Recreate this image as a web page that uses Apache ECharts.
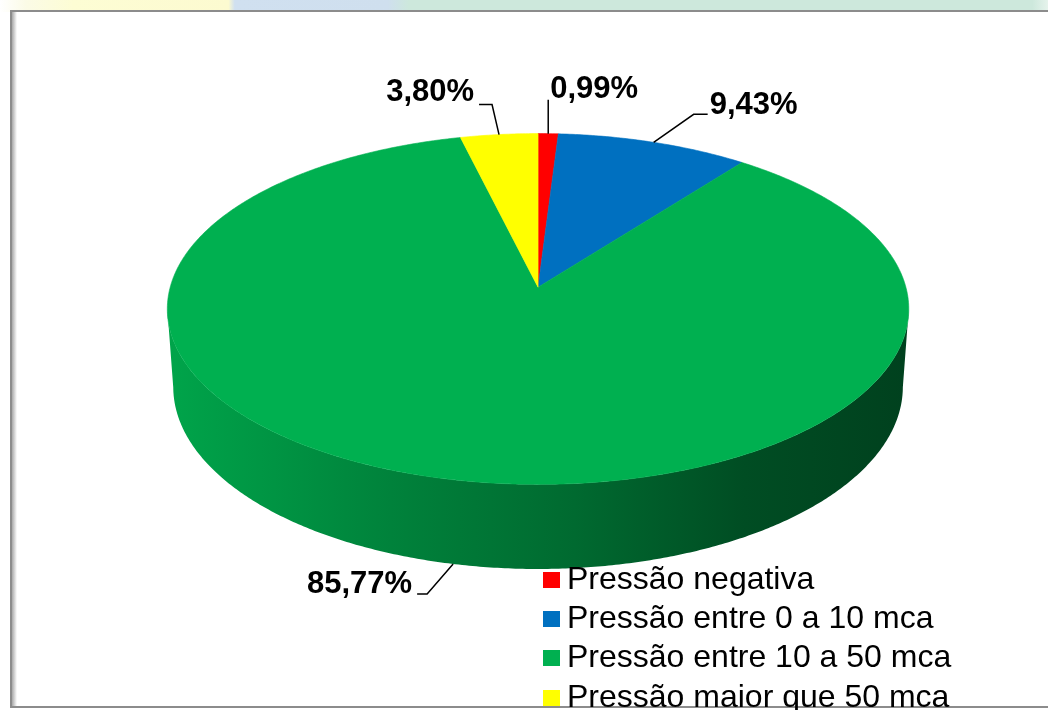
<!DOCTYPE html>
<html>
<head>
<meta charset="utf-8">
<title>Pressão</title>
<script src="https://cdn.jsdelivr.net/npm/echarts@6/dist/echarts.min.js"></script>
<style>
  html, body { margin: 0; padding: 0; background: #fff; }
  #chart { width: 1048px; height: 710px; }
</style>
</head>
<body>
<div id="chart"></div>
<script>
// dados
const categories = ['Pressão negativa', 'Pressão entre 0 a 10 mca', 'Pressão entre 10 a 50 mca', 'Pressão maior que 50 mca'];
const values = [0.99, 9.43, 85.77, 3.80];
const colors = ['#ff0000', '#0070c0', '#00b050', '#ffff00'];

// posição dos rótulos (deslocamentos da linha guia a partir da borda da fatia)
const labelLayout = [
  { bend: [0, -34], tail: 0, align: 'left', dx: 2, dy: -10 },
  { bend: [40, -28], tail: 14, align: 'left', dx: 2, dy: -9 },
  { bend: [-26, 30], tail: -10, align: 'right', dx: -5, dy: -10 },
  { bend: [-7, -30], tail: -13, align: 'right', dx: -5, dy: -12 }
];

const total = values.reduce((a, b) => a + b, 0);
const starts = [];
values.reduce((acc, v, i) => { starts[i] = acc; return acc + v; }, 0);

// perspectiva do "pizza 3D"
const TILT = 28 * Math.PI / 180;
const cosT = Math.cos(TILT), sinT = Math.sin(TILT);
const DIST = 7.11;
const DEPTH = 0.242;
const THETA_S = Math.acos(-cosT / DIST); // limite visível da lateral

function fmt(v) {
  return v.toFixed(2).replace('.', ',') + '%';
}

function shade(hex, f) {
  const n = parseInt(hex.slice(1), 16);
  const r = Math.round(((n >> 16) & 255) * f);
  const g = Math.round(((n >> 8) & 255) * f);
  const b = Math.round((n & 255) * f);
  return 'rgb(' + r + ',' + g + ',' + b + ')';
}

const chart = echarts.init(document.getElementById('chart'));

function renderItem(params, api) {
  const W = api.getWidth(), Hh = api.getHeight();
  const cx = W * 0.5134, cy = Hh * 0.4045, S = W * 0.351;
  const project = (theta, Y) => {
    const X = Math.sin(theta), Z = Math.cos(theta);
    const yv = Y * cosT + Z * sinT;
    const zv = DIST + Z * cosT - Y * sinT;
    return [cx + S * DIST * X / zv, cy - S * DIST * yv / zv];
  };

  const i = params.dataIndex;
  const v = api.value(0);
  const a0 = starts[i] / total * Math.PI * 2;
  const a1 = a0 + v / total * Math.PI * 2;
  const color = colors[i];
  const step = Math.PI / 360;
  const children = [];

  // lateral
  const lo = Math.max(a0, THETA_S), hi = Math.min(a1, Math.PI * 2 - THETA_S);
  if (hi > lo) {
    const topArc = [], botArc = [];
    for (let t = lo; t < hi; t += step) {
      topArc.push(project(t, 0));
      botArc.push(project(t, -DEPTH));
    }
    topArc.push(project(hi, 0));
    botArc.push(project(hi, -DEPTH));
    children.push({
      type: 'polygon',
      z2: 1,
      shape: { points: topArc.concat(botArc.reverse()) },
      style: {
        fill: new echarts.graphic.LinearGradient(cx - S, 0, cx + S, 0, [
          { offset: 0, color: shade(color, 0.93) },
          { offset: 0.3, color: shade(color, 0.74) },
          { offset: 0.55, color: shade(color, 0.6) },
          { offset: 0.78, color: shade(color, 0.44) },
          { offset: 1, color: shade(color, 0.37) }
        ], true)
      }
    });
  }

  // topo
  const pts = [[cx, cy]];
  for (let t = a0; t < a1; t += step) pts.push(project(t, 0));
  pts.push(project(a1, 0));
  children.push({
    type: 'polygon',
    z2: 2,
    shape: { points: pts },
    style: { fill: color, stroke: color, lineWidth: 0.6 }
  });

  // rótulo
  const mid = (a0 + a1) / 2;
  const front = mid > THETA_S && mid < Math.PI * 2 - THETA_S;
  const anchor = project(mid, front ? -DEPTH : 0);
  const lay = labelLayout[i];
  const bend = [anchor[0] + lay.bend[0], anchor[1] + lay.bend[1]];
  const end = [bend[0] + lay.tail, bend[1]];
  children.push({
    type: 'polyline',
    z2: 3,
    shape: { points: [anchor, bend, end] },
    style: { stroke: '#000', lineWidth: 1.5, fill: null }
  });
  children.push({
    type: 'text',
    z2: 3,
    style: {
      text: fmt(v),
      x: end[0] + lay.dx,
      y: end[1] + lay.dy,
      align: lay.align,
      verticalAlign: 'middle',
      fill: '#000',
      fontSize: 31,
      fontWeight: 'bold',
      fontFamily: 'Liberation Sans, Arial, sans-serif'
    }
  });

  return { type: 'group', children: children };
}

// legenda: a última linha fica cortada pela borda, como no original
const legendBase = {
  orient: 'vertical',
  left: 543,
  padding: 0,
  icon: 'rect',
  itemWidth: 17,
  itemHeight: 16,
  itemGap: 7,
  selectedMode: false,
  textStyle: {
    fontSize: 32,
    lineHeight: 32,
    color: '#000',
    fontFamily: 'Liberation Sans, Arial, sans-serif',
    padding: [0, 0, 0, 2]
  }
};

const option = {
  animation: false,
  backgroundColor: '#fff',
  graphic: [
    {
      type: 'rect',
      z: -10,
      shape: { x: 0, y: 0, width: 1048, height: 12 },
      style: {
        fill: new echarts.graphic.LinearGradient(0, 0, 1, 0, [
          { offset: 0, color: '#ffffff' },
          { offset: 0.025, color: '#fbfbe6' },
          { offset: 0.07, color: '#fdfdd4' },
          { offset: 0.218, color: '#fcfad0' },
          { offset: 0.224, color: '#d0e0f0' },
          { offset: 0.37, color: '#cfdfee' },
          { offset: 0.39, color: '#cde8dc' },
          { offset: 0.985, color: '#cde8dc' },
          { offset: 1, color: '#e6f3ec' }
        ])
      }
    },
    {
      type: 'rect',
      z: -9,
      shape: { x: 11, y: 11, width: 1046, height: 696 },
      style: { fill: '#fff', stroke: '#8c8c8c', lineWidth: 2 }
    },
    {
      type: 'rect',
      z: -8,
      shape: { x: 12, y: 12, width: 5, height: 694 },
      style: {
        fill: new echarts.graphic.LinearGradient(0, 0, 1, 0, [
          { offset: 0, color: '#a8a8a8' },
          { offset: 1, color: '#ffffff' }
        ])
      }
    }
  ],
  legend: [
    Object.assign({}, legendBase, { data: categories.slice(0, 3), top: 564 }),
    Object.assign({}, legendBase, { data: categories.slice(3), top: 682 })
  ],
  series: [
    {
      type: 'custom',
      name: 'Pressão',
      coordinateSystem: 'none',
      renderItem: renderItem,
      data: values.map((v, i) => ({ name: categories[i], value: v }))
    },
    {
      // apenas para a legenda
      type: 'pie',
      silent: true,
      radius: [0, 0],
      center: [-200, -200],
      label: { show: false },
      labelLine: { show: false },
      data: values.map((v, i) => ({ name: categories[i], value: v, itemStyle: { color: colors[i] } }))
    }
  ]
};

chart.setOption(option);
</script>
</body>
</html>
